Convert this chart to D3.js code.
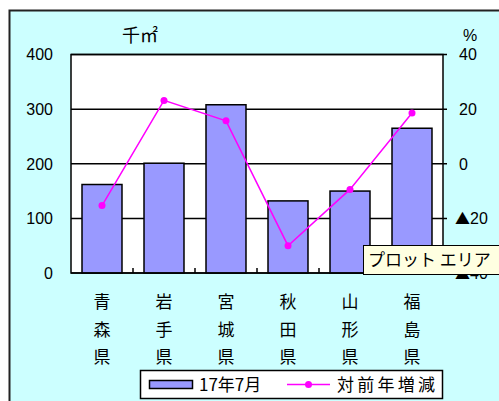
<!DOCTYPE html>
<html>
<head>
<meta charset="utf-8">
<script src="https://cdn.jsdelivr.net/npm/d3@7"></script>
<style>
  html, body { margin: 0; padding: 0; background: #ffffff; }
  svg { display: block; }
</style>
</head>
<body>
<svg id="chart" width="499" height="401"></svg>
<script>
// Prefectures (drawn vertically, one character per line)
const categories = ["青森県", "岩手県", "宮城県", "秋田県", "山形県", "福島県"];
// Volume for July of year 17, thousand m²
const volume = [162, 201, 308, 132, 150, 265];
// Year-over-year change, %
const changeRate = [-15.3, 23.2, 15.7, -30.0, -9.4, 18.6];
// Axis ticks
const leftTicks = [0, 100, 200, 300, 400];
const rightTicks = [-40, -20, 0, 20, 40];
const rightTickLabels = ["▲40", "▲20", "0", "20", "40"];
const seriesNames = ["17年7月", "対前年増減"];

const svg = d3.select("#chart");
const W = 499, H = 401;
const plot = { left: 71, right: 443, top: 54.5, bottom: 273 };
const numFont = "'Liberation Sans', Arial, sans-serif";
const jpFont = "'Noto Sans CJK JP', 'Noto Sans', sans-serif";

// Chart area background and frame (runs past the window on the right and bottom)
svg.append("rect").attr("x", 0).attr("y", 0).attr("width", W).attr("height", H).attr("fill", "#ffffff");
svg.append("rect")
  .attr("x", 9.5).attr("y", 10.5).attr("width", 520).attr("height", 420)
  .attr("fill", "#ccffff").attr("stroke", "#222").attr("stroke-width", 2);

// Scales
const x = d3.scaleBand().domain(categories)
  .range([plot.left, plot.right]).paddingInner(0.355).paddingOuter(0.1775);
const yL = d3.scaleLinear().domain([0, 400]).range([plot.bottom, plot.top]);
const yR = d3.scaleLinear().domain([-40, 40]).range([plot.bottom, plot.top]);

// Plot area
svg.append("rect")
  .attr("x", plot.left).attr("y", plot.top)
  .attr("width", plot.right - plot.left).attr("height", plot.bottom - plot.top)
  .attr("fill", "#ffffff");

// Horizontal gridlines
svg.append("g").selectAll("line").data(leftTicks).join("line")
  .attr("x1", plot.left).attr("x2", plot.right + 4)
  .attr("y1", d => yL(d)).attr("y2", d => yL(d))
  .attr("stroke", "#000").attr("stroke-width", 1.5);

// Bars
svg.append("g").selectAll("rect").data(categories).join("rect")
  .attr("x", d => x(d))
  .attr("y", (d, i) => yL(volume[i]))
  .attr("width", x.bandwidth())
  .attr("height", (d, i) => yL(0) - yL(volume[i]))
  .attr("fill", "#9999ff").attr("stroke", "#000").attr("stroke-width", 1.5);

// Plot frame
svg.append("rect")
  .attr("x", plot.left).attr("y", plot.top)
  .attr("width", plot.right - plot.left).attr("height", plot.bottom - plot.top)
  .attr("fill", "none").attr("stroke", "#000").attr("stroke-width", 1.5);

// Category tick marks on the bottom axis (pointing inward)
const step = x.step();
const bounds = d3.range(1, categories.length).map(i => plot.left + i * step);
svg.append("g").selectAll("line").data(bounds).join("line")
  .attr("x1", d => d).attr("x2", d => d)
  .attr("y1", plot.bottom).attr("y2", plot.bottom - 5)
  .attr("stroke", "#000").attr("stroke-width", 1.5);

// Left axis labels
svg.append("g").selectAll("text").data(leftTicks).join("text")
  .attr("x", 53).attr("y", d => yL(d)).attr("dy", "0.36em")
  .attr("text-anchor", "end")
  .attr("font-family", numFont).attr("font-size", 16).attr("fill", "#000")
  .text(d => d);

// Right axis labels (negative values carry a full-width triangle)
const rl = svg.append("g").selectAll("text").data(rightTicks).join("text")
  .attr("x", d => d < 0 ? 455 : 459).attr("y", d => yR(d)).attr("dy", "0.36em")
  .attr("text-anchor", "start")
  .attr("font-family", numFont).attr("font-size", 16).attr("fill", "#000");
rl.each(function(d, i) {
  const t = d3.select(this);
  const label = rightTickLabels[i];
  if (label.startsWith("▲")) {
    t.append("tspan").attr("font-family", jpFont).attr("font-size", 15).text("▲");
    t.append("tspan").text(label.slice(1));
  } else {
    t.text(label);
  }
});

// Axis unit titles
svg.append("text").attr("x", 140).attr("y", 42).attr("text-anchor", "middle")
  .attr("font-family", jpFont).attr("font-size", 18).attr("fill", "#000").text("千㎡");
svg.append("text").attr("x", 470).attr("y", 41).attr("text-anchor", "middle")
  .attr("font-family", numFont).attr("font-size", 16).attr("fill", "#000").text("%");

// Vertical category labels
const catG = svg.append("g");
categories.forEach(c => {
  const cx = x(c) + x.bandwidth() / 2;
  Array.from(c).forEach((ch, j) => {
    catG.append("text")
      .attr("x", cx).attr("y", 302 + j * 27.5).attr("dy", "0.36em")
      .attr("text-anchor", "middle")
      .attr("font-family", jpFont).attr("font-size", 17).attr("fill", "#000")
      .text(ch);
  });
});

// Year-over-year line with markers
const line = d3.line()
  .x((d, i) => x(categories[i]) + x.bandwidth() / 2)
  .y(d => yR(d));
svg.append("path").datum(changeRate)
  .attr("d", line).attr("fill", "none")
  .attr("stroke", "#ff00ff").attr("stroke-width", 1.5);
svg.append("g").selectAll("circle").data(changeRate).join("circle")
  .attr("cx", (d, i) => x(categories[i]) + x.bandwidth() / 2)
  .attr("cy", d => yR(d)).attr("r", 3.5)
  .attr("fill", "#ff00ff");

// Legend
const lg = svg.append("g");
lg.append("rect").attr("x", 140.5).attr("y", 370.5).attr("width", 302).attr("height", 28)
  .attr("fill", "#ffffff").attr("stroke", "#000").attr("stroke-width", 1.5);
lg.append("rect").attr("x", 149.5).attr("y", 380.5).attr("width", 43).attr("height", 8)
  .attr("fill", "#9999ff").attr("stroke", "#000").attr("stroke-width", 1.5);
lg.append("text").attr("x", 199).attr("y", 385).attr("dy", "0.36em")
  .attr("font-family", jpFont).attr("font-size", 17).attr("fill", "#000").text(seriesNames[0]);
lg.append("line").attr("x1", 287).attr("x2", 330).attr("y1", 384.5).attr("y2", 384.5)
  .attr("stroke", "#ff00ff").attr("stroke-width", 1.5);
lg.append("circle").attr("cx", 308.5).attr("cy", 384.5).attr("r", 3.5).attr("fill", "#ff00ff");
lg.append("text").attr("x", 337).attr("y", 385).attr("dy", "0.36em")
  .attr("font-family", jpFont).attr("font-size", 17).attr("fill", "#000")
  .attr("textLength", 98).text(seriesNames[1]);

// Hover tip over the plot area (covers the lowest right-axis label, as on screen)
const tip = svg.append("g");
tip.append("rect").attr("x", 363.5).attr("y", 245.5).attr("width", 150).attr("height", 29)
  .attr("fill", "#ffffe1").attr("stroke", "#000").attr("stroke-width", 1);
tip.append("text").attr("x", 368).attr("y", 260).attr("dy", "0.36em")
  .attr("font-family", jpFont).attr("font-size", 17).attr("fill", "#000")
  .text("プロット エリア");
</script>
</body>
</html>
